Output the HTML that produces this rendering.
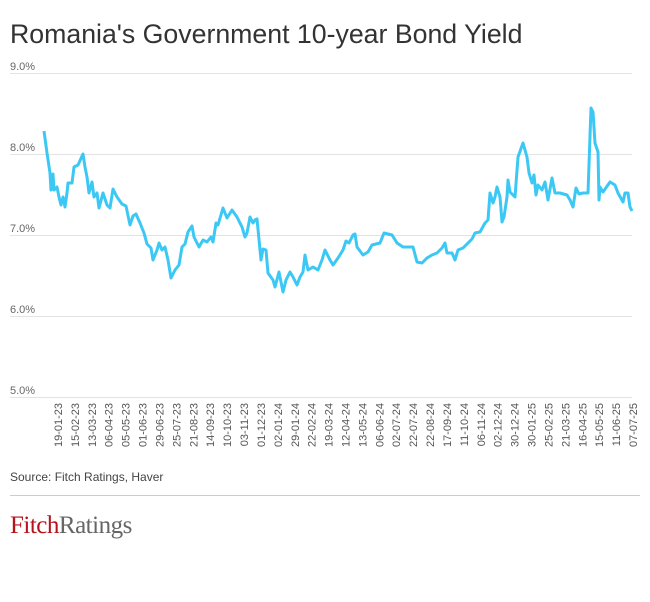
<!DOCTYPE html>
<html><head><meta charset="utf-8"><style>
body{margin:0;background:#fff;}
svg{display:block;font-family:"Liberation Sans",sans-serif;}
</style></head><body>
<svg width="650" height="602" viewBox="0 0 650 602">
<text x="10" y="43" font-size="26.7" fill="#333">Romania's Government 10-year Bond Yield</text>
<g stroke="#e3e3e3" stroke-width="1">
<line x1="10" y1="73.5" x2="632" y2="73.5"/>
<line x1="10" y1="154.5" x2="632" y2="154.5"/>
<line x1="10" y1="235.5" x2="632" y2="235.5"/>
<line x1="10" y1="316.5" x2="632" y2="316.5"/>
<line x1="10" y1="397.5" x2="632" y2="397.5"/>
</g>
<g font-size="11" fill="#666">
<text x="10" y="70">9.0%</text>
<text x="10" y="151">8.0%</text>
<text x="10" y="232">7.0%</text>
<text x="10" y="313">6.0%</text>
<text x="10" y="394">5.0%</text>
</g>
<polyline fill="none" stroke="#3cc8f5" stroke-width="3" stroke-linejoin="round" points="44,131 47,153 50,173 51,190 53,174 54,190 57,187 59,197 61,205 63,197 65,207 67,193 68,183 72,183 74,167 78,165 83,154 85,167 87,177 89,193 92,182 94,197 97,193 99,208 103,193 107,205 110,208 113,189 117,197 122,204 126,206 130,225 133,216 136,214 140,223 144,233 147,244 151,248 153,260 157,250 159,243 162,250 165,247 168,260 171,278 175,270 179,265 182,247 185,244 188,232 192,226 194,237 199,247 203,240 207,242 211,237 213,242 216,223 218,225 223,208 227,218 232,210 237,217 242,227 245,237 247,233 250,217 253,223 255,220 257,219 261,260 263,249 266,250 268,273 273,280 275,287 279,272 283,292 286,280 290,272 293,277 297,285 300,277 303,272 305,255 308,270 313,267 318,270 322,260 325,250 330,260 333,265 338,258 343,250 346,241 349,243 353,235 355,234 357,247 363,255 368,252 372,245 380,243 384,233 392,235 397,243 403,247 413,247 417,262 422,263 427,258 432,255 437,253 442,248 445,243 447,253 452,253 455,260 458,250 463,248 468,243 472,239 475,233 480,232 485,223 488,220 490,193 493,203 495,197 497,187 500,197 502,222 504,217 507,197 508,180 510,192 515,197 518,157 523,143 527,157 529,173 532,183 534,175 536,195 538,185 542,190 545,182 548,200 552,178 555,193 560,193 567,195 570,200 573,207 576,188 579,194 583,193 588,193 591,108 593,112 595,143 598,152 599,200 600,187 603,192 610,182 615,185 618,193 623,202 625,193 628,193 630,207 632,211"/>
<g font-size="11" fill="#555" id="xl"></g>
<text x="10" y="481" font-size="12" fill="#444">Source: Fitch Ratings, Haver</text>
<line x1="10" y1="495.5" x2="640" y2="495.5" stroke="#ccc" stroke-width="1"/>
<text x="10" y="533" font-family="Liberation Serif,serif" font-size="25" letter-spacing="-0.5"><tspan fill="#b5121b">Fitch</tspan><tspan fill="#666">Ratings</tspan></text>
</svg>
<script>
var L="19-01-23 15-02-23 13-03-23 06-04-23 05-05-23 01-06-23 29-06-23 25-07-23 21-08-23 14-09-23 10-10-23 03-11-23 01-12-23 02-01-24 29-01-24 22-02-24 19-03-24 12-04-24 13-05-24 06-06-24 02-07-24 22-07-24 22-08-24 17-09-24 11-10-24 06-11-24 02-12-24 30-12-24 30-01-25 25-02-25 21-03-25 16-04-25 15-05-25 11-06-25 07-07-25".split(" ");
var g=document.getElementById("xl"),s="";
for(var i=0;i<L.length;i++){var x=58+i*(633-58)/(L.length-1)+4;
s+='<text transform="translate('+x.toFixed(1)+',403) rotate(-90)" text-anchor="end">'+L[i]+'</text>';}
g.innerHTML=s;
</script>
</body></html>
